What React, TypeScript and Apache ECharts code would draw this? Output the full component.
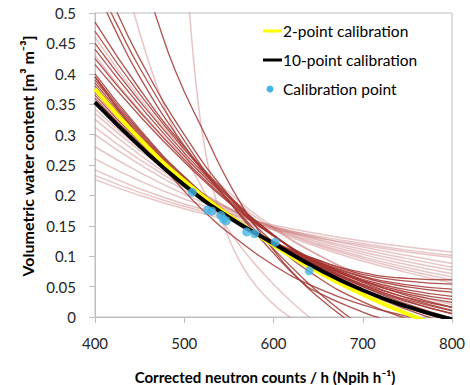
import React, { useEffect, useRef } from "react";
import * as echarts from "echarts";

// Corrected neutron counts sampled for the regular-grid curves
const N_GRID = [400, 450, 500, 550, 600, 650, 700, 750, 800];

// Calibration curves (volumetric water content at each N_GRID value)
const twoPoint = [0.375, 0.293, 0.224, 0.167, 0.118, 0.074, 0.037, 0.005, -0.022];
const tenPoint = [0.353, 0.281, 0.217, 0.164, 0.121, 0.079, 0.044, 0.017, -0.004];

// Calibration points
const calibN = [509, 526, 531, 541, 544, 547, 570, 579, 602, 640];
const calibTheta = [0.205, 0.176, 0.174, 0.167, 0.161, 0.158, 0.14, 0.137, 0.123, 0.076];

// Legend labels
const legendLabels = ["2-point calibration", "10-point calibration", "Calibration point"];

// Individual calibrations (dark), on N_GRID
const darkCurves: number[][] = [
  [0.4, 0.309, 0.231, 0.17, 0.124, 0.094, 0.073, 0.0635, 0.061],
  [0.395, 0.306, 0.23, 0.169, 0.124, 0.093, 0.07, 0.059, 0.054],
  [0.39, 0.303, 0.228, 0.168, 0.123, 0.091, 0.067, 0.053, 0.046],
  [0.385, 0.3, 0.227, 0.167, 0.123, 0.09, 0.065, 0.0495, 0.041],
  [0.38, 0.297, 0.225, 0.167, 0.122, 0.089, 0.062, 0.0446, 0.034],
  [0.37, 0.291, 0.222, 0.166, 0.122, 0.088, 0.06, 0.041, 0.029],
  [0.36, 0.285, 0.219, 0.165, 0.121, 0.087, 0.058, 0.0376, 0.024],
  [0.365, 0.288, 0.221, 0.165, 0.121, 0.085, 0.054, 0.032, 0.016],
  [0.375, 0.294, 0.224, 0.166, 0.12, 0.084, 0.052, 0.028, 0.01],
  [0.355, 0.282, 0.218, 0.164, 0.12, 0.083, 0.05, 0.025, 0.006],
  [0.485, 0.375, 0.28, 0.2, 0.135, 0.083, 0.043, 0.012, -0.012],
  [0.47, 0.367, 0.276, 0.198, 0.135, 0.085, 0.046, 0.016, -0.008],
  [0.45, 0.355, 0.27, 0.196, 0.135, 0.087, 0.05, 0.021, -0.002],
  [0.44, 0.348, 0.265, 0.193, 0.134, 0.088, 0.053, 0.026, 0.005],
  [0.425, 0.338, 0.259, 0.19, 0.134, 0.09, 0.057, 0.031, 0.011],
  [0.415, 0.331, 0.255, 0.188, 0.133, 0.091, 0.06, 0.035, 0.016],
];

// Individual calibrations (light), on N_GRID
const lightCurves: number[][] = [
  [0.242, 0.211, 0.186, 0.167, 0.151, 0.137, 0.125, 0.115, 0.107],
  [0.233, 0.205, 0.182, 0.163, 0.147, 0.133, 0.121, 0.11, 0.101],
  [0.226, 0.2, 0.178, 0.16, 0.144, 0.13, 0.118, 0.107, 0.098],
  [0.26, 0.224, 0.194, 0.17, 0.149, 0.131, 0.115, 0.101, 0.088],
  [0.28, 0.238, 0.202, 0.172, 0.148, 0.128, 0.111, 0.096, 0.082],
  [0.3, 0.251, 0.209, 0.175, 0.148, 0.126, 0.107, 0.091, 0.077],
  [0.312, 0.259, 0.214, 0.177, 0.147, 0.123, 0.103, 0.086, 0.071],
  [0.325, 0.267, 0.218, 0.178, 0.146, 0.12, 0.099, 0.081, 0.066],
  [0.335, 0.274, 0.222, 0.179, 0.145, 0.118, 0.096, 0.077, 0.061],
  [0.342, 0.278, 0.224, 0.179, 0.143, 0.115, 0.092, 0.073, 0.056],
  [0.46, 0.36, 0.275, 0.205, 0.148, 0.102, 0.066, 0.038, 0.016],
  [0.43, 0.34, 0.263, 0.198, 0.145, 0.102, 0.068, 0.041, 0.02],
];

// Steep individual calibrations, as [N, theta] pairs
const darkSteep: number[][][] = [
  [[408, 0.52], [420, 0.48], [450, 0.395], [500, 0.282], [550, 0.19], [600, 0.112], [630, 0.068], [650, 0.041], [680, 0.005], [700, -0.016]],
  [[415, 0.51], [425, 0.48], [450, 0.41], [500, 0.29], [550, 0.19], [600, 0.105], [630, 0.06], [650, 0.04], [700, 0.008], [720, -0.002]],
  [[400, 0.395], [450, 0.295], [500, 0.207], [530, 0.163], [550, 0.138], [600, 0.085], [650, 0.047], [700, 0.02], [750, 0.001], [770, -0.005]],
  [[422, 0.51], [450, 0.425], [500, 0.3], [550, 0.2], [600, 0.122], [650, 0.065], [700, 0.025], [750, -0.003]],
  [[460, 0.53], [467, 0.5], [490, 0.405], [520, 0.31], [560, 0.195], [600, 0.11], [630, 0.06], [650, 0.033], [680, -0.002]],
];
const lightSteep: number[][][] = [
  [[504, 0.55], [506, 0.5], [510, 0.43], [515, 0.36], [520, 0.305], [530, 0.226], [540, 0.17], [550, 0.129], [565, 0.084], [580, 0.052], [600, 0.021], [618, 0], [630, -0.011]],
  [[440, 0.522], [450, 0.468], [470, 0.377], [490, 0.302], [510, 0.24], [530, 0.187], [550, 0.142], [575, 0.094], [600, 0.054], [620, 0.025], [640, 0], [660, -0.023]],
];

const DARK = "rgba(163,52,48,0.85)";
const LIGHT = "rgba(205,125,125,0.45)";
const YELLOW = "#ffff00";
const BLACK = "#000000";
const CYAN = "#45b4e3";
const FONT = "Lato, 'Open Sans', sans-serif";

export default function App() {
  const ref = useRef<HTMLDivElement>(null);
  useEffect(() => {
    if (!ref.current) return;
    const chart = echarts.init(ref.current, null, { renderer: "svg" });
    const onGrid = (vals: number[]) => N_GRID.map((n, i) => [n, vals[i]]);
    const mk = (data: number[][], color: string, width: number) => ({
      type: "line",
      data,
      symbol: "none",
      smooth: 0.5,
      silent: true,
      clip: true,
      lineStyle: { color, width },
      z: 2,
    });
    const series: any[] = [];
    lightCurves.forEach((c) => series.push(mk(onGrid(c), LIGHT, 1.5)));
    lightSteep.forEach((c) => series.push(mk(c, LIGHT, 1.5)));
    darkCurves.forEach((c) => series.push(mk(onGrid(c), DARK, 1.3)));
    darkSteep.forEach((c) => series.push(mk(c, DARK, 1.3)));
    series.push({ ...mk(onGrid(twoPoint), YELLOW, 4), name: legendLabels[0], z: 3 });
    series.push({ ...mk(onGrid(tenPoint), BLACK, 4), name: legendLabels[1], z: 4 });
    series.push({
      type: "scatter",
      name: legendLabels[2],
      data: calibN.map((n, i) => [n, calibTheta[i]]),
      symbol: "circle",
      symbolSize: 9,
      itemStyle: { color: CYAN },
      z: 5,
    });

    const legendY = [31, 60, 89];
    const legendText = (i: number) => ({
      type: "text",
      x: 283,
      y: legendY[i],
      style: {
        text: legendLabels[i],
        fontFamily: FONT,
        fontSize: 15.5,
        fill: "#000",
        textAlign: "left",
        textVerticalAlign: "middle",
      },
    });

    chart.setOption({
      animation: false,
      backgroundColor: "#ffffff",
      grid: {
        left: 95,
        right: 18,
        top: 13,
        bottom: 68,
        show: true,
        borderColor: "#bfbfbf",
        borderWidth: 1,
        backgroundColor: "transparent",
      },
      xAxis: {
        type: "value",
        min: 400,
        max: 800,
        interval: 100,
        axisLine: { show: true, lineStyle: { color: "#bfbfbf", width: 1 } },
        axisTick: { show: true, inside: false, length: 6, lineStyle: { color: "#bfbfbf" } },
        splitLine: { show: false },
        axisLabel: { fontFamily: FONT, fontSize: 15, color: "#262626", margin: 18 },
      },
      yAxis: {
        type: "value",
        min: 0,
        max: 0.5,
        interval: 0.05,
        axisLine: { show: true, lineStyle: { color: "#bfbfbf", width: 1 } },
        axisTick: { show: true, inside: false, length: 6, lineStyle: { color: "#bfbfbf" } },
        splitLine: { show: false },
        axisLabel: { fontFamily: FONT, fontSize: 15, color: "#262626", margin: 19 },
      },
      graphic: [
        { type: "line", shape: { x1: 263, y1: legendY[0], x2: 282, y2: legendY[0] }, style: { stroke: YELLOW, lineWidth: 3 }, z: 10 },
        legendText(0),
        { type: "line", shape: { x1: 263, y1: legendY[1], x2: 282, y2: legendY[1] }, style: { stroke: BLACK, lineWidth: 3 }, z: 10 },
        legendText(1),
        { type: "circle", shape: { cx: 270, cy: legendY[2], r: 3.5 }, style: { fill: CYAN }, z: 10 },
        legendText(2),
        {
          type: "text",
          x: 265,
          y: 377,
          style: {
            text: "Corrected neutron counts / h (Npih h⁻¹)",
            fontFamily: FONT,
            fontSize: 15,
            fontWeight: "bold",
            fill: "#000",
            textAlign: "center",
            textVerticalAlign: "middle",
          },
        },
        {
          type: "text",
          x: 27,
          y: 156,
          rotation: Math.PI / 2,
          style: {
            text: "Volumetric water content [m³ m⁻³]",
            fontFamily: FONT,
            fontSize: 16,
            fontWeight: "bold",
            fill: "#000",
            textAlign: "center",
            textVerticalAlign: "middle",
          },
        },
      ],
      series,
    });
    return () => chart.dispose();
  }, []);
  return (
    <div
      ref={ref}
      style={{ position: "fixed", left: 0, top: 0, width: 470, height: 385, background: "#fff" }}
    />
  );
}
